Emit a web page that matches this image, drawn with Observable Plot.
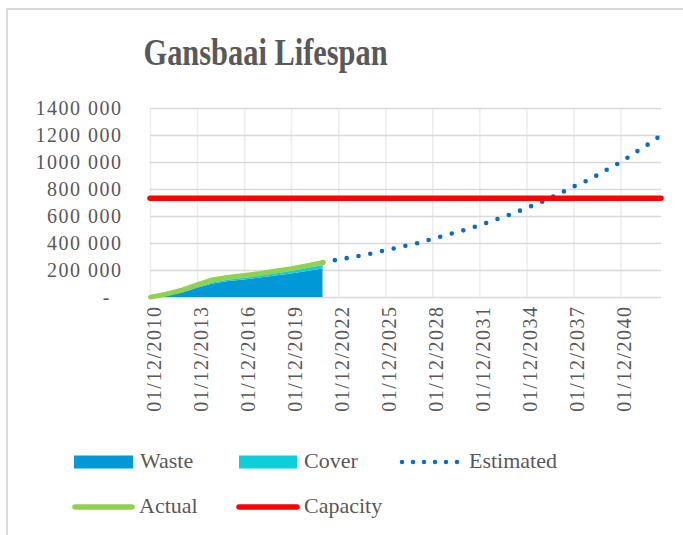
<!DOCTYPE html>
<html>
<head>
<meta charset="utf-8">
<script src="https://cdn.jsdelivr.net/npm/d3@7"></script>
<script src="https://cdn.jsdelivr.net/npm/@observablehq/plot@0.6"></script>
<style>
  html, body { margin: 0; padding: 0; background: #fff; }
  #wrap { position: relative; width: 683px; height: 535px; overflow: hidden; font-family: "Liberation Serif", serif; color: #595959; }
  #frame { position: absolute; left: 6px; top: 8px; right: -4px; bottom: -4px; border-left: 2px solid #d9d9d9; border-top: 2px solid #d9d9d9; }
  #title { position: absolute; left: 0; top: 33px; width: 532px; text-align: center; line-height: 1; }
  #title span { display: inline-block; font-size: 38px; font-weight: bold; transform: scaleX(0.8); transform-origin: center; white-space: nowrap; }
  #chart { position: absolute; left: 0; top: 0; }
  .lg { position: absolute; font-size: 22px; line-height: 1; white-space: nowrap; }
  .sw { position: absolute; }
</style>
</head>
<body>
<div id="wrap">
  <div id="frame"></div>
  <div id="chart"></div>
  <div id="title"><span>Gansbaai Lifespan</span></div>
  <div id="legend"></div>
</div>
<script>
// ---- data ----
const actualDates = ["2010-12-01","2011-12-01","2012-12-01","2013-12-01","2014-12-01","2015-12-01","2016-12-01","2017-12-01","2018-12-01","2019-12-01","2020-12-01","2021-12-01"];
const actualValues = [3000, 25000, 55000, 95000, 132000, 150000, 163000, 178000, 196000, 214000, 236000, 260000];
const wasteValues  = [0, 12000, 32000, 68000, 100000, 118000, 130000, 144000, 159000, 175000, 193000, 212000];
const coverValues  = [0, 3000, 5000, 7000, 9000, 11000, 13000, 15000, 17000, 19000, 22000, 25000];
const estimatedDates = ["2021-12-01","2022-12-01","2023-12-01","2024-12-01","2025-12-01","2026-12-01","2027-12-01","2028-12-01","2029-12-01","2030-12-01","2031-12-01","2032-12-01","2033-12-01","2034-12-01","2035-12-01","2036-12-01","2037-12-01","2038-12-01","2039-12-01","2040-12-01","2041-12-01","2042-12-01","2043-06-01"];
const estimatedValues = [260000, 282000, 301000, 324000, 350000, 376000, 402000, 435000, 467000, 499000, 535000, 577000, 617000, 664000, 711000, 765000, 823000, 875000, 941000, 1004000, 1081000, 1155000, 1198000];
const capacityValue = 735000;
const xTickYears = [2010, 2013, 2016, 2019, 2022, 2025, 2028, 2031, 2034, 2037, 2040];
const yTicks = [0, 200000, 400000, 600000, 800000, 1000000, 1200000, 1400000];
const seriesNames = ["Waste", "Cover", "Estimated", "Actual", "Capacity"];
const seriesColors = ["#0098D6", "#0BCFD9", "#0B6CC8", "#92D050", "#FF0000"];

// ---- tables built from the arrays ----
const parse = s => new Date(s + "T00:00:00Z");
const stackRows = [];
actualDates.forEach((d, i) => stackRows.push({date: parse(d), value: wasteValues[i], series: "Waste"}));
actualDates.forEach((d, i) => stackRows.push({date: parse(d), value: coverValues[i], series: "Cover"}));
const actual = actualDates.map((d, i) => ({date: parse(d), value: actualValues[i]}));
const estimated = estimatedDates.map((d, i) => ({date: parse(d), value: estimatedValues[i]}));
const xTicks = xTickYears.map(y => new Date(Date.UTC(y, 11, 1)));
const col = name => seriesColors[seriesNames.indexOf(name)];

const chart = Plot.plot({
  width: 683,
  height: 430,
  marginTop: 108,
  marginBottom: 133,
  marginLeft: 150,
  marginRight: 22,
  style: {fontFamily: "'Liberation Serif', serif", fontSize: "20px", color: "#595959", background: "transparent", letterSpacing: "1.5px", overflow: "visible"},
  x: {type: "utc", domain: [parse("2010-12-01"), parse("2043-07-01")], label: null},
  y: {domain: [0, 1400000], ticks: yTicks, tickFormat: d => d === 0 ? "-\u2002" : `${d / 1000} 000`, tickSize: 0, tickPadding: 28, label: null},
  color: {domain: ["Waste", "Cover"], range: [col("Waste"), col("Cover")]},
  marks: [
    Plot.gridX(xTicks, {stroke: "#ececec", strokeOpacity: 1, strokeWidth: 1.5}),
    Plot.gridY(yTicks, {stroke: "#d9d9d9", strokeOpacity: 1, strokeWidth: 1.5}),
    Plot.axisX(xTicks, {tickFormat: d3.utcFormat("%d/%m/%Y"), tickRotate: -90, tickSize: 0, tickPadding: 8, dx: 4, label: null}),
    Plot.areaY(stackRows, {x: "date", y: "value", fill: "series", curve: "linear"}),
    Plot.line(estimated, {x: "date", y: "value", stroke: col("Estimated"), strokeWidth: 4.6, strokeDasharray: "0 12", strokeLinecap: "round"}),
    Plot.line(actual, {x: "date", y: "value", stroke: col("Actual"), strokeWidth: 5, strokeLinecap: "round", strokeLinejoin: "round"}),
    Plot.ruleY([capacityValue], {stroke: col("Capacity"), strokeWidth: 5.5, strokeLinecap: "round"})
  ]
});
document.getElementById("chart").appendChild(chart);

// ---- legend (HTML) ----
const legend = document.getElementById("legend");
const items = [
  {name: "Waste",     kind: "rect", sx: 74,  sw: 59, row: 0, tx: 140},
  {name: "Cover",     kind: "rect", sx: 239, sw: 58, row: 0, tx: 304},
  {name: "Estimated", kind: "dots", sx: 400, sw: 60, row: 0, tx: 469},
  {name: "Actual",    kind: "line", sx: 73,  sw: 61, row: 1, tx: 139},
  {name: "Capacity",  kind: "line", sx: 237, sw: 62, row: 1, tx: 304}
];
const rowCenter = [461.5, 507];
const rowTextTop = [450, 495];
items.forEach(it => {
  const c = col(it.name);
  const s = document.createElementNS("http://www.w3.org/2000/svg", "svg");
  s.setAttribute("class", "sw");
  s.setAttribute("width", it.sw + 8);
  s.setAttribute("height", 16);
  s.style.left = (it.sx - 4) + "px";
  s.style.top = (rowCenter[it.row] - 8) + "px";
  if (it.kind === "rect") {
    s.innerHTML = `<rect x="4" y="1.5" width="${it.sw}" height="13" fill="${c}"/>`;
  } else if (it.kind === "dots") {
    s.innerHTML = `<line x1="6" x2="${it.sw + 2}" y1="8" y2="8" stroke="${c}" stroke-width="4.5" stroke-linecap="round" stroke-dasharray="0 11"/>`;
  } else {
    s.innerHTML = `<line x1="6" x2="${it.sw + 2}" y1="8" y2="8" stroke="${c}" stroke-width="5.5" stroke-linecap="round"/>`;
  }
  legend.appendChild(s);
  const t = document.createElement("div");
  t.className = "lg";
  t.textContent = it.name;
  t.style.left = it.tx + "px";
  t.style.top = rowTextTop[it.row] + "px";
  legend.appendChild(t);
});
</script>
</body>
</html>
